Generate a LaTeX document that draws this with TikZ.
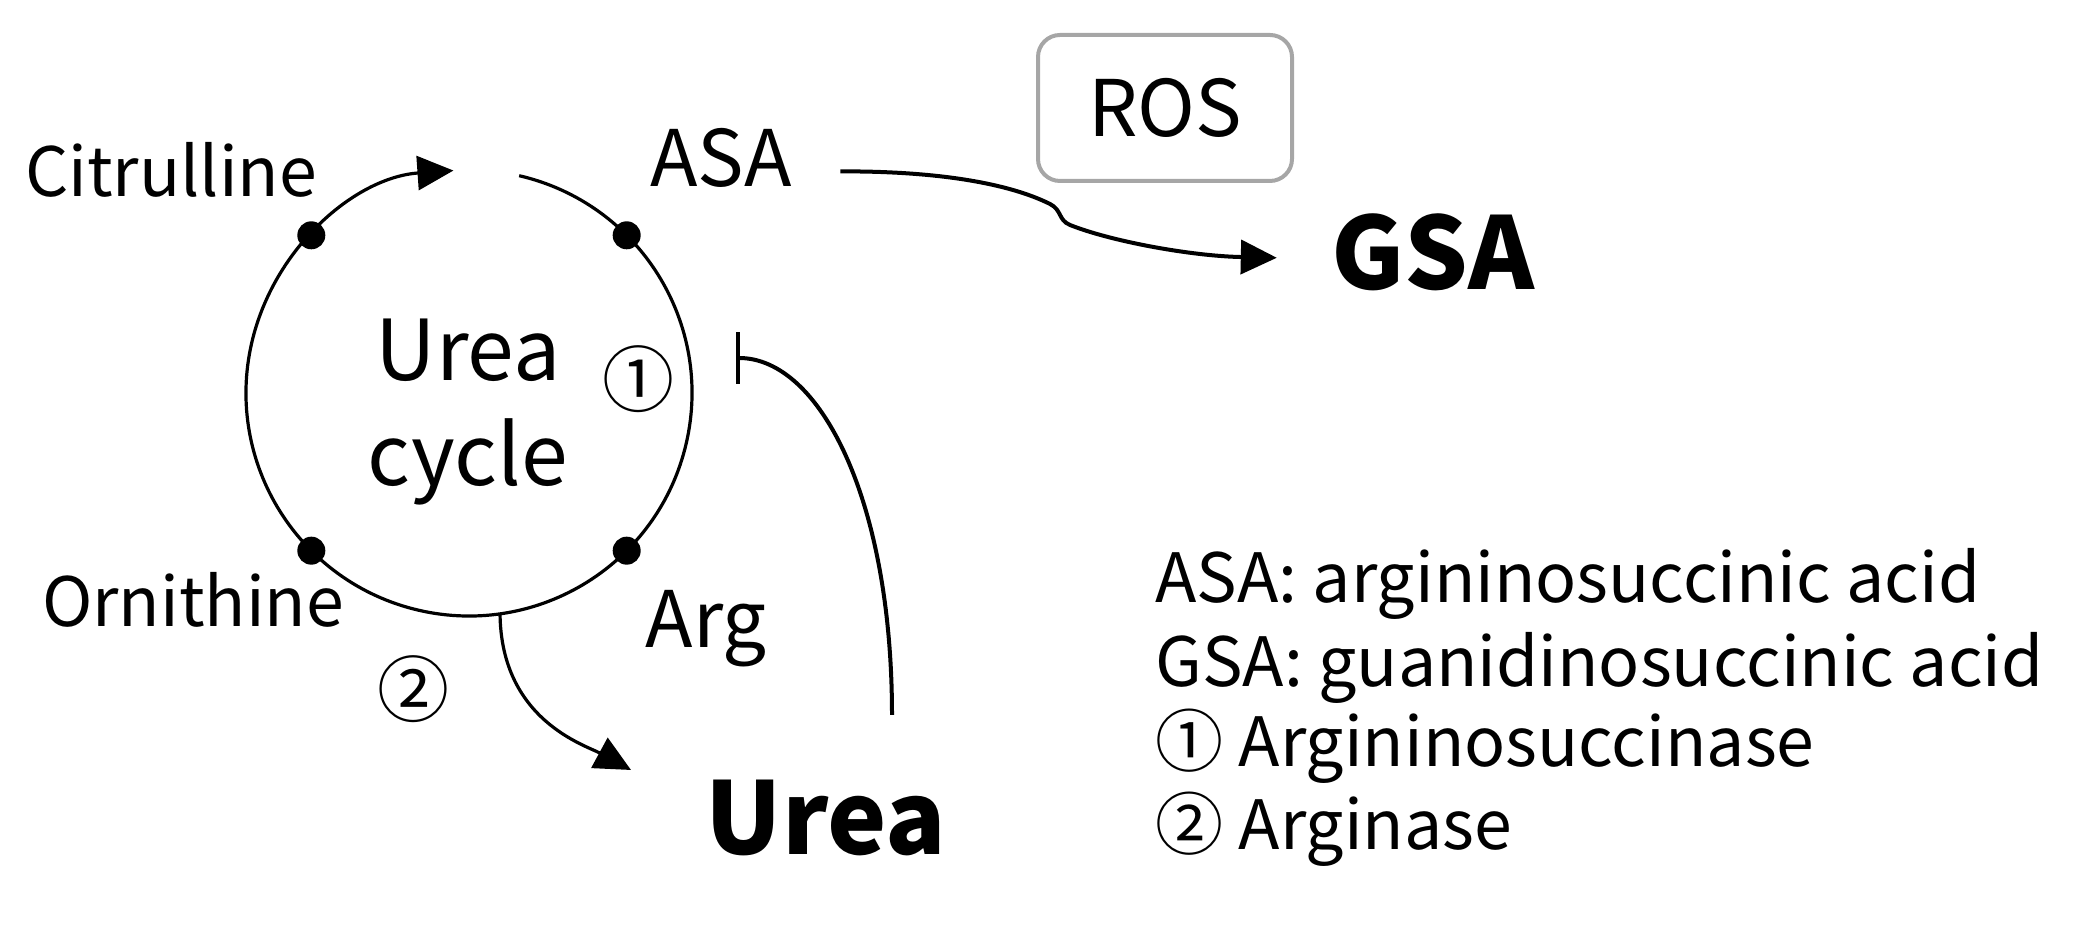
\documentclass[tikz,border=0pt]{standalone}
\usepackage{fontspec}
\setmainfont{Noto Sans CJK JP}
\usetikzlibrary{arrows.meta}
\definecolor{rosgray}{RGB}{166,166,166}
\tikzset{ucyc/.style={x=0.5pt,y=0.5pt,line width=1.6pt}}
\tikzset{lbl/.style={font=\fontsize{34}{41}\selectfont,inner sep=0pt,anchor=base},
         mlbl/.style={font=\fontsize{39}{46}\selectfont,inner sep=0pt,anchor=base},
         blbl/.style={font=\fontsize{50}{60}\selectfont\bfseries,inner sep=0pt,anchor=base},
         enz/.style={font=\fontsize{36}{40}\selectfont,inner sep=0pt},
         tip/.style={-{Triangle[length=18pt,width=17pt]}},
         inhib/.style={line width=2pt,-{Bar[width=26pt]}}}

\begin{document}
\begin{tikzpicture}[ucyc]
    \useasboundingbox (0,0) rectangle (2088,946);
    \coordinate (cc) at (469,553);
    % the cycle
    \draw[tip] (cc) ++(77:223) arc[start angle=77,end angle=-266,radius=223];
    \foreach \a in {45,135,225,315} \fill (cc) ++(\a:223) circle (14);
    \node[lbl]  (cit) at (171,749) {Citrulline};
    \node[mlbl] (asa) at (721,759) {ASA};
    \node[lbl]  (orn) at (193,319) {Ornithine};
    \node[mlbl] (arg) at (706,298) {Arg};
    \node[font=\fontsize{42}{52.5}\selectfont,align=center,inner sep=0pt] (ucycle) at (468,534) {Urea\\cycle};
    \node[enz] (e1) at (638,567) {①};
    \node[enz] (e2) at (413,257) {②};
    % products
    \node[blbl] (urea) at (826,91) {Urea};
    \node[blbl] (gsa) at (1433,656) {GSA};
    \node[draw=rosgray,line width=2pt,rounded corners=11pt,minimum width=127pt,minimum height=73pt,
          font=\fontsize{39}{46}\selectfont] (ros) at (1165,838) {ROS};
    \path (cc) ++(-82:223) coordinate (split);
    \coordinate (ureain) at (631,176);
    \draw[tip] (split) .. controls (501,226) and (585,201) .. (ureain);
    \draw[tip,line width=2pt] ([shift={(47,-13)}]asa.east) .. controls (940,775) and (1010,762) .. (1050,742)
        .. controls (1062,736) and (1058,726) .. (1070,721)
        .. controls (1110,705) and (1190,690) .. ([shift={(-53,-5)}]gsa.west);
    \coordinate (inhbot) at (892,231);
    \coordinate (inhtop) at (736,588);
    \draw[inhib] (inhbot) .. controls (892,446) and (820,588) .. (inhtop);
    % key
    \node[lbl,anchor=base west] (k1) at (1154,343) {ASA: argininosuccinic acid};
    \node[lbl,anchor=base west] (k2) at (1154,259) {GSA: guanidinosuccinic acid};
    \node[lbl,anchor=base west] (k3) at (1154,179) {① Argininosuccinase};
    \node[lbl,anchor=base west] (k4) at (1154,96)  {② Arginase};
\end{tikzpicture}
\end{document}
